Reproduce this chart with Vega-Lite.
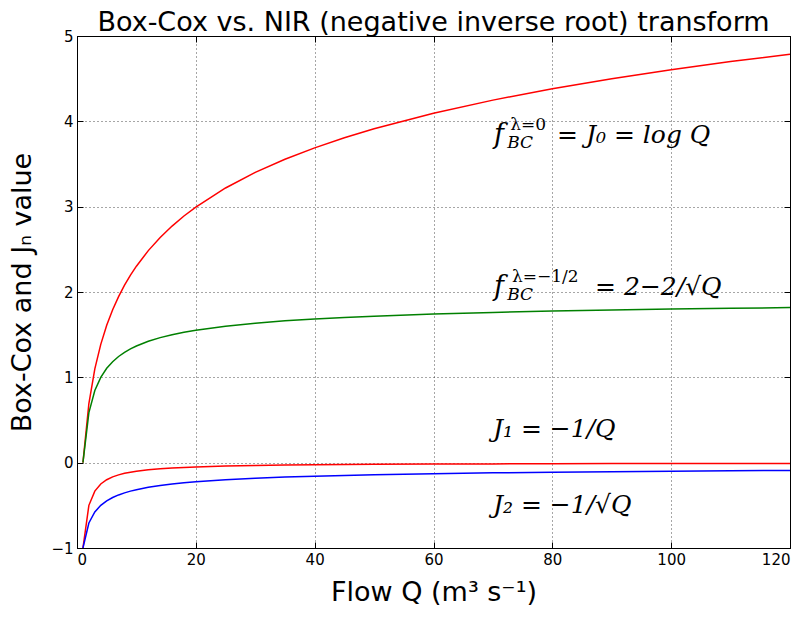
{
  "$schema": "https://vega.github.io/schema/vega-lite/v6.json",
  "width": 713,
  "height": 512,
  "autosize": {"type": "none"},
  "padding": {"left": 77, "top": 36, "right": 17, "bottom": 69},
  "background": "white",
  "title": {"text": "Box-Cox vs. NIR (negative inverse root) transform", "font": "DejaVu Sans", "fontSize": 27, "fontWeight": "normal", "color": "black", "offset": -8, "anchor": "middle"},
  "config": {
    "view": {"stroke": "black", "strokeWidth": 1},
    "axis": {
      "domainColor": "black", "tickColor": "black", "labelColor": "black", "titleColor": "black",
      "labelFont": "DejaVu Sans", "labelFontSize": 15, "titleFont": "DejaVu Sans", "titleFontSize": 27, "titleFontWeight": "normal",
      "gridColor": "black", "gridDash": [1, 3], "gridOpacity": 0.7, "gridWidth": 1, "tickSize": -6, "tickWidth": 1
    }
  },
  "layer": [
    {
      "data": {"values": [
        {"Q": 1, "logQ": 0, "bc": 0, "j1": -1, "j2": -1},
        {"Q": 2, "logQ": 0.6931, "bc": 0.5858, "j1": -0.5, "j2": -0.7071},
        {"Q": 3, "logQ": 1.0986, "bc": 0.8453, "j1": -0.3333, "j2": -0.5774},
        {"Q": 4, "logQ": 1.3863, "bc": 1.0, "j1": -0.25, "j2": -0.5},
        {"Q": 5, "logQ": 1.6094, "bc": 1.1056, "j1": -0.2, "j2": -0.4472},
        {"Q": 6, "logQ": 1.7918, "bc": 1.1835, "j1": -0.1667, "j2": -0.4082},
        {"Q": 7, "logQ": 1.9459, "bc": 1.2441, "j1": -0.1429, "j2": -0.378},
        {"Q": 8, "logQ": 2.0794, "bc": 1.2929, "j1": -0.125, "j2": -0.3536},
        {"Q": 9, "logQ": 2.1972, "bc": 1.3333, "j1": -0.1111, "j2": -0.3333},
        {"Q": 10, "logQ": 2.3026, "bc": 1.3675, "j1": -0.1, "j2": -0.3162},
        {"Q": 12, "logQ": 2.4849, "bc": 1.4226, "j1": -0.0833, "j2": -0.2887},
        {"Q": 14, "logQ": 2.6391, "bc": 1.4655, "j1": -0.0714, "j2": -0.2673},
        {"Q": 16, "logQ": 2.7726, "bc": 1.5, "j1": -0.0625, "j2": -0.25},
        {"Q": 18, "logQ": 2.8904, "bc": 1.5286, "j1": -0.0556, "j2": -0.2357},
        {"Q": 20, "logQ": 2.9957, "bc": 1.5528, "j1": -0.05, "j2": -0.2236},
        {"Q": 25, "logQ": 3.2189, "bc": 1.6, "j1": -0.04, "j2": -0.2},
        {"Q": 30, "logQ": 3.4012, "bc": 1.6349, "j1": -0.0333, "j2": -0.1826},
        {"Q": 35, "logQ": 3.5553, "bc": 1.6619, "j1": -0.0286, "j2": -0.169},
        {"Q": 40, "logQ": 3.6889, "bc": 1.6838, "j1": -0.025, "j2": -0.1581},
        {"Q": 45, "logQ": 3.8067, "bc": 1.7019, "j1": -0.0222, "j2": -0.1491},
        {"Q": 50, "logQ": 3.912, "bc": 1.7172, "j1": -0.02, "j2": -0.1414},
        {"Q": 60, "logQ": 4.0943, "bc": 1.7418, "j1": -0.0167, "j2": -0.1291},
        {"Q": 70, "logQ": 4.2485, "bc": 1.761, "j1": -0.0143, "j2": -0.1195},
        {"Q": 80, "logQ": 4.382, "bc": 1.7764, "j1": -0.0125, "j2": -0.1118},
        {"Q": 90, "logQ": 4.4998, "bc": 1.7892, "j1": -0.0111, "j2": -0.1054},
        {"Q": 100, "logQ": 4.6052, "bc": 1.8, "j1": -0.01, "j2": -0.1},
        {"Q": 110, "logQ": 4.7005, "bc": 1.8093, "j1": -0.0091, "j2": -0.0953},
        {"Q": 120, "logQ": 4.7875, "bc": 1.8174, "j1": -0.0083, "j2": -0.0913}
      ]},
      "transform": [{"fold": ["logQ", "bc", "j1", "j2"], "as": ["series", "value"]}],
      "mark": {"type": "line", "strokeWidth": 1.5, "clip": true},
      "encoding": {
        "x": {"field": "Q", "type": "quantitative", "scale": {"domain": [0, 120], "nice": false},
              "axis": {"orient": "bottom", "values": [0, 20, 40, 60, 80, 100, 120], "title": "Flow Q (m³ s⁻¹)", "titlePadding": 12, "labelPadding": 10, "grid": true}},
        "y": {"field": "value", "type": "quantitative", "scale": {"domain": [-1, 5], "nice": false},
              "axis": {"orient": "left", "values": [-1, 0, 1, 2, 3, 4, 5], "title": "Box-Cox and Jₙ value", "titlePadding": 14, "labelPadding": 10, "grid": true}},
        "color": {"field": "series", "type": "nominal", "scale": {"domain": ["logQ", "bc", "j1", "j2"], "range": ["#ff0000", "#008000", "#ff0000", "#0000ff"]}, "legend": null}
      }
    },
    {
      "data": {"values": [
        {"x": 70.2, "y": 3.746, "t": "f"},
        {"x": 70.2, "y": 1.965, "t": "f"}
      ]},
      "mark": {"type": "text", "font": "DejaVu Serif", "fontStyle": "italic", "fontSize": 27, "align": "left", "baseline": "alphabetic", "color": "black"},
      "encoding": {
        "x": {"field": "x", "type": "quantitative", "axis": {"orient": "top", "values": [0, 20, 40, 60, 80, 100, 120], "labels": false, "title": null, "grid": false, "domain": false}},
        "y": {"field": "y", "type": "quantitative", "axis": {"orient": "right", "values": [-1, 0, 1, 2, 3, 4, 5], "labels": false, "title": null, "grid": false, "domain": false}},
        "text": {"field": "t"}
      }
    },
    {
      "data": {"values": [
        {"x": 72.9, "y": 3.899, "t": "λ=0"},
        {"x": 73.2, "y": 2.117, "t": "λ=−1/2"}
      ]},
      "mark": {"type": "text", "font": "DejaVu Serif", "fontSize": 17, "align": "left", "baseline": "alphabetic", "color": "black"},
      "encoding": {
        "x": {"field": "x", "type": "quantitative", "axis": null},
        "y": {"field": "y", "type": "quantitative", "axis": null},
        "text": {"field": "t"}
      }
    },
    {
      "data": {"values": [
        {"x": 72.4, "y": 3.6875, "t": "BC"},
        {"x": 72.4, "y": 1.906, "t": "BC"}
      ]},
      "mark": {"type": "text", "font": "DejaVu Serif", "fontStyle": "italic", "fontSize": 17, "align": "left", "baseline": "alphabetic", "color": "black"},
      "encoding": {
        "x": {"field": "x", "type": "quantitative", "axis": null},
        "y": {"field": "y", "type": "quantitative", "axis": null},
        "text": {"field": "t"}
      }
    },
    {
      "data": {"values": [
        {"x": 80.8, "y": 3.746, "t": "= J₀ = log Q"},
        {"x": 87.2, "y": 1.965, "t": "= 2−2/√Q"},
        {"x": 70.0, "y": 0.301, "t": "J₁ = −1/Q"},
        {"x": 70.0, "y": -0.59, "t": "J₂ = −1/√Q"}
      ]},
      "mark": {"type": "text", "font": "DejaVu Serif", "fontStyle": "italic", "fontSize": 25, "align": "left", "baseline": "alphabetic", "color": "black"},
      "encoding": {
        "x": {"field": "x", "type": "quantitative", "axis": null},
        "y": {"field": "y", "type": "quantitative", "axis": null},
        "text": {"field": "t"}
      }
    }
  ],
  "resolve": {"axis": {"x": "independent", "y": "independent"}}
}
